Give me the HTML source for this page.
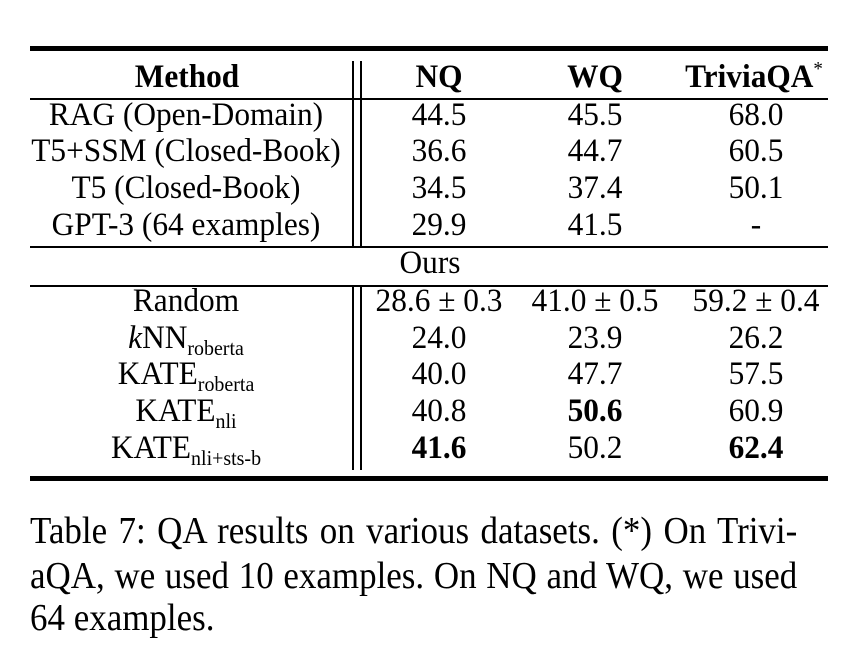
<!DOCTYPE html>
<html><head><meta charset="utf-8"><style>
body{margin:0;background:#fff;}
#c{position:relative;width:850px;height:650px;overflow:hidden;font-family:"Liberation Serif",serif;color:#000;}
.t{position:absolute;font-size:33px;line-height:33px;white-space:nowrap;transform:translateX(-50%) scaleX(0.95);}
.b{font-weight:bold;}
.r{position:absolute;background:#000;}
sub{font-size:21px;vertical-align:-7px;line-height:0;}
.cap{position:absolute;left:30px;width:834px;font-size:38px;line-height:38px;text-align:justify;text-align-last:justify;white-space:nowrap;transform:scaleX(0.92);transform-origin:0 0;}
</style></head><body><div id="c">
<div class="r" style="left:30px;top:46px;width:798px;height:5px"></div>
<div class="r" style="left:30px;top:98px;width:798px;height:1.5px"></div>
<div class="r" style="left:30px;top:246px;width:798px;height:1.5px"></div>
<div class="r" style="left:30px;top:285px;width:798px;height:1.5px"></div>
<div class="r" style="left:30px;top:476px;width:798px;height:5px"></div>
<div class="r" style="left:352px;top:61px;width:1.5px;height:186px"></div>
<div class="r" style="left:360px;top:61px;width:1.5px;height:186px"></div>
<div class="r" style="left:352px;top:285px;width:1.5px;height:185px"></div>
<div class="r" style="left:360px;top:285px;width:1.5px;height:185px"></div>

<div class="t b" style="left:187px;top:61px">Method</div>
<div class="t b" style="left:439px;top:61px">NQ</div>
<div class="t b" style="left:595px;top:61px">WQ</div>
<div class="t b" style="left:754px;top:61px">TriviaQA<span style="font-weight:normal;font-size:20px;vertical-align:12px;line-height:0">*</span></div>

<div class="t" style="left:186px;top:99px">RAG (Open-Domain)</div>
<div class="t" style="left:439px;top:99px">44.5</div>
<div class="t" style="left:595px;top:99px">45.5</div>
<div class="t" style="left:756px;top:99px">68.0</div>

<div class="t" style="left:186px;top:135px">T5+SSM (Closed-Book)</div>
<div class="t" style="left:439px;top:135px">36.6</div>
<div class="t" style="left:595px;top:135px">44.7</div>
<div class="t" style="left:756px;top:135px">60.5</div>

<div class="t" style="left:186px;top:172px">T5 (Closed-Book)</div>
<div class="t" style="left:439px;top:172px">34.5</div>
<div class="t" style="left:595px;top:172px">37.4</div>
<div class="t" style="left:756px;top:172px">50.1</div>

<div class="t" style="left:186px;top:209px">GPT-3 (64 examples)</div>
<div class="t" style="left:439px;top:209px">29.9</div>
<div class="t" style="left:595px;top:209px">41.5</div>
<div class="t" style="left:756px;top:209px">-</div>

<div class="t" style="left:430px;top:247px">Ours</div>

<div class="t" style="left:186px;top:285px">Random</div>
<div class="t" style="left:439px;top:285px">28.6 ± 0.3</div>
<div class="t" style="left:595px;top:285px">41.0 ± 0.5</div>
<div class="t" style="left:756px;top:285px">59.2 ± 0.4</div>

<div class="t" style="left:186px;top:322px"><i>k</i>NN<sub>roberta</sub></div>
<div class="t" style="left:439px;top:322px">24.0</div>
<div class="t" style="left:595px;top:322px">23.9</div>
<div class="t" style="left:756px;top:322px">26.2</div>

<div class="t" style="left:186px;top:358px">KATE<sub>roberta</sub></div>
<div class="t" style="left:439px;top:358px">40.0</div>
<div class="t" style="left:595px;top:358px">47.7</div>
<div class="t" style="left:756px;top:358px">57.5</div>

<div class="t" style="left:186px;top:395px">KATE<sub>nli</sub></div>
<div class="t" style="left:439px;top:395px">40.8</div>
<div class="t b" style="left:595px;top:395px">50.6</div>
<div class="t" style="left:756px;top:395px">60.9</div>

<div class="t" style="left:186px;top:432px">KATE<sub>nli+sts-b</sub></div>
<div class="t b" style="left:439px;top:432px">41.6</div>
<div class="t" style="left:595px;top:432px">50.2</div>
<div class="t b" style="left:756px;top:432px">62.4</div>

<div class="cap" style="top:512px">Table 7: QA results on various datasets. (*) On Trivi-</div>
<div class="cap" style="top:557px">aQA, we used 10 examples. On NQ and WQ, we used</div>
<div class="cap" style="top:599px;text-align-last:left;">64 examples.</div>
</div></body></html>
